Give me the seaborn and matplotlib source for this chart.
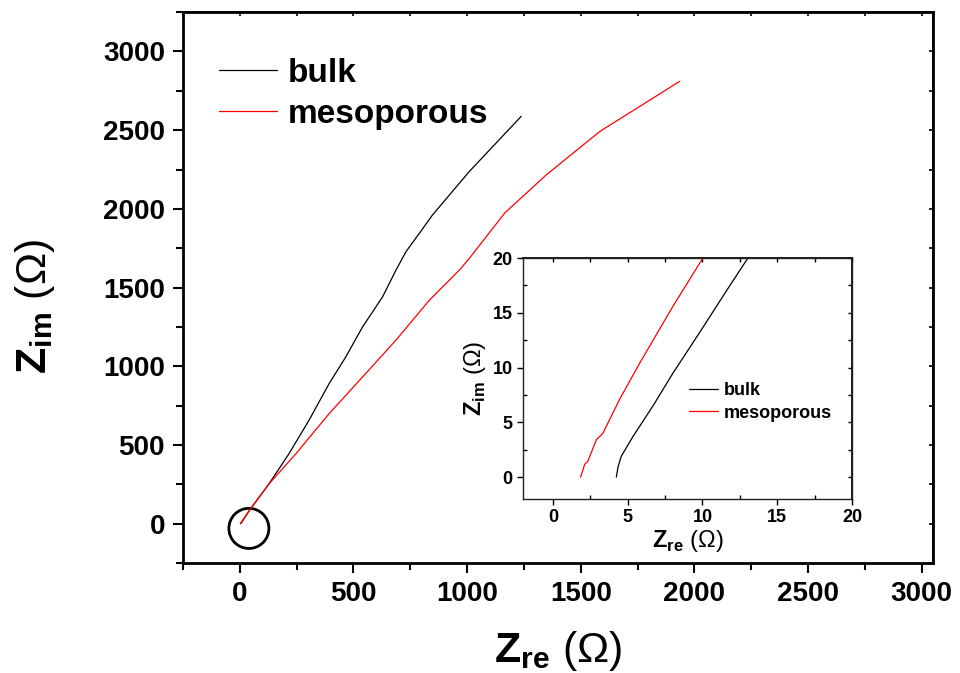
import pandas as pd
import matplotlib
matplotlib.use("Agg")
import matplotlib.pyplot as plt
from matplotlib.patches import Ellipse
from matplotlib.ticker import MultipleLocator
import seaborn as sns

# ── data ────────────────────────────────────────────────────
# main plot (ohm)
bulk_zre = [4.3, 47, 128, 216, 304, 393, 466, 540, 628, 687, 731, 790, 848, 1010, 1238]
bulk_zim = [0, 94, 252, 444, 656, 890, 1059, 1250, 1441, 1611, 1728, 1845, 1962, 2238, 2588]
meso_zre = [1.9, 47, 128, 246, 393, 540, 687, 834, 966, 1010, 1165, 1349, 1584, 1936]
meso_zim = [0, 94, 252, 443, 699, 932, 1166, 1420, 1611, 1686, 1973, 2217, 2492, 2811]

# inset, zoom near the origin (ohm)
bulk_zre_in = [4.24, 4.35, 4.57, 5.35, 6.69, 8.03, 9.81, 11.6, 13.04]
bulk_zim_in = [0, 0.9, 1.9, 3.7, 6.5, 9.5, 13.2, 17.0, 20]
meso_zre_in = [1.85, 2.12, 2.34, 2.9, 3.34, 4.46, 5.8, 8.03, 10.03]
meso_zim_in = [0, 1.15, 1.46, 3.4, 4.0, 7.1, 10.4, 15.6, 20]

samples = ["bulk", "mesoporous"]
colors = {"bulk": "black", "mesoporous": "red"}

main_df = pd.concat([
    pd.DataFrame({"Zre": bulk_zre, "Zim": bulk_zim, "sample": "bulk"}),
    pd.DataFrame({"Zre": meso_zre, "Zim": meso_zim, "sample": "mesoporous"}),
], ignore_index=True)
inset_df = pd.concat([
    pd.DataFrame({"Zre": bulk_zre_in, "Zim": bulk_zim_in, "sample": "bulk"}),
    pd.DataFrame({"Zre": meso_zre_in, "Zim": meso_zim_in, "sample": "mesoporous"}),
], ignore_index=True)

# ── style ────────────────────────────────────────────────────
sns.set_theme(style="ticks")
plt.rcParams["font.family"] = ["Liberation Sans", "DejaVu Sans"]
plt.rcParams["font.weight"] = "bold"
plt.rcParams["mathtext.fontset"] = "custom"
plt.rcParams["mathtext.rm"] = "Liberation Sans"
plt.rcParams["mathtext.bf"] = "Liberation Sans:bold"
for key in ["text.color", "axes.labelcolor", "xtick.color", "ytick.color", "axes.edgecolor"]:
    plt.rcParams[key] = "black"

fig = plt.figure(figsize=(9.6, 6.73), dpi=100)
ax = fig.add_axes([0.1906, 0.1634, 0.7814, 0.8186])

sns.lineplot(data=main_df, x="Zre", y="Zim", hue="sample", palette=colors,
             hue_order=samples, sort=False, estimator=None, linewidth=0.9, ax=ax)

# the circle marking the zoomed region
ax.add_patch(Ellipse((40, -30), 176, 255, fill=False, edgecolor="black", linewidth=2))

ax.set_xlim(-250, 3050)
ax.set_ylim(-250, 3250)
ax.xaxis.set_major_locator(MultipleLocator(500))
ax.xaxis.set_minor_locator(MultipleLocator(250))
ax.yaxis.set_major_locator(MultipleLocator(500))
ax.yaxis.set_minor_locator(MultipleLocator(250))
ax.tick_params(which="major", direction="out", length=7, width=1.5, labelsize=20, pad=6)
ax.tick_params(which="minor", direction="out", length=5, width=1.5)
for lab in ax.get_xticklabels() + ax.get_yticklabels():
    lab.set_fontweight("bold")
for sp in ax.spines.values():
    sp.set_linewidth(2)

# inward ticks on the top and right edges
top = ax.secondary_xaxis("top")
top.xaxis.set_major_locator(MultipleLocator(250))
top.tick_params(direction="in", length=3, width=1.2, labeltop=False)
right = ax.secondary_yaxis("right")
right.yaxis.set_major_locator(MultipleLocator(250))
right.tick_params(direction="in", length=3, width=1.2, labelright=False)

ax.set_xlabel(r"$\mathbf{Z}_{\mathbf{re}}$ (Ω)", fontsize=31, labelpad=16)
ax.set_ylabel(r"$\mathbf{Z}_{\mathbf{im}}$ (Ω)", fontsize=31)
ax.yaxis.set_label_coords(-0.168, 0.465)

leg = ax.legend(loc="upper left", bbox_to_anchor=(0.048, 0.917), frameon=False,
                fontsize=24, handlelength=1.75, handletextpad=0.3, labelspacing=0.3,
                borderaxespad=0, borderpad=0)
for t in leg.get_texts():
    t.set_fontweight("bold")

# ── inset ────────────────────────────────────────────────────
ins = fig.add_axes([0.5448, 0.2585, 0.3427, 0.3581])
sns.lineplot(data=inset_df, x="Zre", y="Zim", hue="sample", palette=colors,
             hue_order=samples, sort=False, estimator=None, linewidth=0.9, ax=ins)
ins.set_xlim(-2, 20)
ins.set_ylim(-2, 20)
ins.xaxis.set_major_locator(MultipleLocator(5))
ins.xaxis.set_minor_locator(MultipleLocator(2.5))
ins.yaxis.set_major_locator(MultipleLocator(5))
ins.yaxis.set_minor_locator(MultipleLocator(2.5))
ins.tick_params(which="major", direction="out", length=4, width=1, labelsize=13)
ins.tick_params(which="minor", direction="in", length=3, width=1)
for lab in ins.get_xticklabels() + ins.get_yticklabels():
    lab.set_fontweight("bold")
for sp in ins.spines.values():
    sp.set_linewidth(1)
    sp.set_color("#222222")
itop = ins.secondary_xaxis("top")
itop.xaxis.set_major_locator(MultipleLocator(2.5))
itop.tick_params(direction="in", length=3, width=1, labeltop=False)
iright = ins.secondary_yaxis("right")
iright.yaxis.set_major_locator(MultipleLocator(2.5))
iright.tick_params(direction="in", length=3, width=1, labelright=False)

ins.set_xlabel(r"$\mathbf{Z}_{\mathbf{re}}$ (Ω)", fontsize=17, labelpad=1)
ins.set_ylabel(r"$\mathbf{Z}_{\mathbf{im}}$ (Ω)", fontsize=17, labelpad=3)

ileg = ins.legend(loc="upper left", bbox_to_anchor=(0.505, 0.485), frameon=False,
                  fontsize=13, handlelength=1.6, handletextpad=0.3, labelspacing=0.3,
                  borderaxespad=0, borderpad=0)
for t in ileg.get_texts():
    t.set_fontweight("bold")

fig.savefig("out.png", dpi=100)
